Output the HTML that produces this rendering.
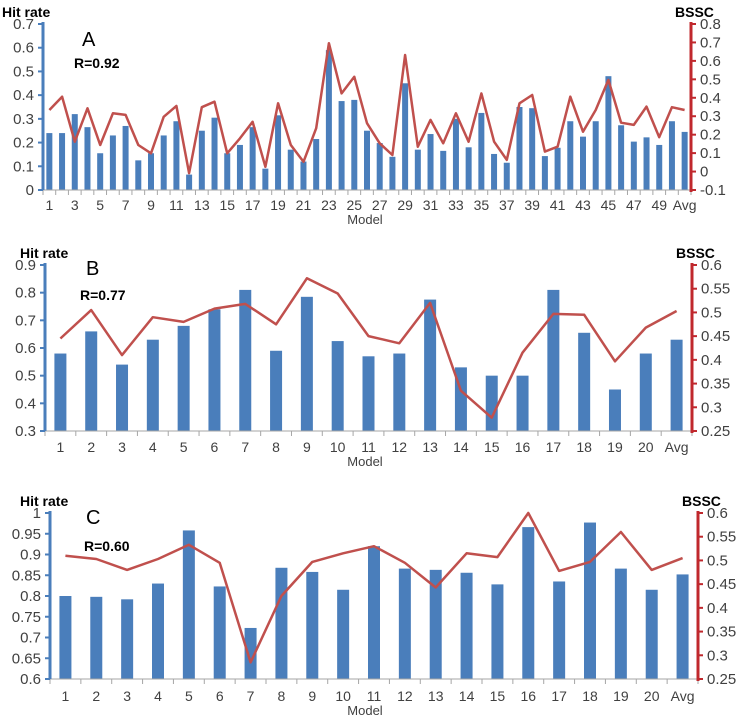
<!DOCTYPE html>
<html><head><meta charset="utf-8"><style>
body{margin:0;background:#fff;}
svg{display:block;font-family:"Liberation Sans",sans-serif;}
</style></head><body>
<svg id="c" width="747" height="725"></svg>
<script>
const catsA = []; for (let i=1;i<=50;i++) catsA.push(String(i)); catsA.push('Avg');
const hitA = [0.24,0.24,0.32,0.265,0.155,0.23,0.27,0.125,0.155,0.23,0.29,0.065,0.25,0.305,0.155,0.19,0.265,0.09,0.315,0.17,0.12,0.215,0.59,0.375,0.38,0.25,0.198,0.14,0.45,0.17,0.236,0.165,0.30,0.18,0.325,0.152,0.115,0.35,0.345,0.143,0.178,0.29,0.225,0.29,0.48,0.273,0.204,0.222,0.19,0.29,0.245];
const bsscA = [0.334,0.406,0.162,0.343,0.144,0.316,0.307,0.144,0.099,0.297,0.356,-0.009,0.349,0.379,0.099,0.18,0.27,0.026,0.37,0.144,0.053,0.235,0.696,0.424,0.514,0.262,0.153,0.09,0.632,0.135,0.28,0.153,0.316,0.162,0.424,0.162,0.063,0.37,0.415,0.108,0.135,0.406,0.216,0.334,0.497,0.265,0.253,0.352,0.186,0.349,0.334];
const catsBC = ['1','2','3','4','5','6','7','8','9','10','11','12','13','14','15','16','17','18','19','20','Avg'];
const hitB = [0.58,0.66,0.54,0.63,0.68,0.74,0.81,0.59,0.785,0.625,0.57,0.58,0.775,0.53,0.5,0.5,0.81,0.655,0.45,0.58,0.63];
const bsscB = [0.445,0.505,0.41,0.49,0.48,0.508,0.518,0.475,0.572,0.54,0.45,0.435,0.52,0.335,0.278,0.415,0.497,0.495,0.397,0.468,0.503];
const hitC = [0.80,0.798,0.792,0.83,0.958,0.823,0.723,0.868,0.858,0.815,0.92,0.866,0.863,0.856,0.828,0.966,0.835,0.977,0.866,0.815,0.852];
const bsscC = [0.51,0.503,0.48,0.503,0.533,0.495,0.285,0.425,0.497,0.515,0.53,0.495,0.443,0.515,0.507,0.6,0.478,0.497,0.56,0.48,0.505];
const leftTicksA = ['0','0.1','0.2','0.3','0.4','0.5','0.6','0.7'];
const rightTicksA = ['-0.1','0','0.1','0.2','0.3','0.4','0.5','0.6','0.7','0.8'];
const leftTicksB = ['0.3','0.4','0.5','0.6','0.7','0.8','0.9'];
const rightTicksB = ['0.25','0.3','0.35','0.4','0.45','0.5','0.55','0.6'];
const leftTicksC = ['0.6','0.65','0.7','0.75','0.8','0.85','0.9','0.95','1'];
const rightTicksC = ['0.25','0.3','0.35','0.4','0.45','0.5','0.55','0.6'];

const NS='http://www.w3.org/2000/svg';
const svg=document.getElementById('c');
function mk(tag,attrs,parent){const e=document.createElementNS(NS,tag);for(const k in attrs)e.setAttribute(k,attrs[k]);(parent||svg).appendChild(e);return e;}

function panel(p){
  const g=mk('g',{});
  
  
  const n=p.cats.length, step=(p.x1-p.x0)/n;
  const xc=i=>p.x0+step*(i+0.5);
  const lmin=+p.lt[0], lmax=+p.lt[p.lt.length-1];
  const rmin=+p.rt[0], rmax=+p.rt[p.rt.length-1];
  const yl=v=>p.yb-(v-lmin)/(lmax-lmin)*(p.yb-p.yt);
  const yr=v=>p.yb-(v-rmin)/(rmax-rmin)*(p.yb-p.yt);
  p.hit.forEach((v,i)=>{
    const r=mk('rect',{x:xc(i)-p.bw/2,y:yl(v),width:p.bw,height:p.yb-yl(v),fill:'#4a7ebb'},g);
    
    
  });
  const xa=mk('line',{x1:p.x0,y1:p.yb,x2:p.x1,y2:p.yb,stroke:'#a6a6a6','stroke-width':1},g);
  
  
  for(let i=0;i<=n;i++) mk('line',{x1:p.x0+step*i,y1:p.yb,x2:p.x0+step*i,y2:p.yb+5,stroke:'#a6a6a6'},g);
  p.cats.forEach((c,i)=>{
    if(p.id==='a' && i%2===1 && c!=='Avg') return;
    const t=mk('text',{x:xc(i),y:p.yb+p.lblDy,'text-anchor':'middle','font-size':p.fs,fill:'#404040'},g);
    t.textContent=c;
    
    
  });
  const mt=mk('text',{x:p.modelX,y:p.yb+p.lblDy+14,'text-anchor':'middle','font-size':13,fill:'#404040'},g);
  mt.textContent='Model';
  
  
  const pts=p.bssc.map((v,i)=>xc(i).toFixed(1)+','+yr(v).toFixed(1)).join(' ');
  const pl=mk('polyline',{points:pts,fill:'none',stroke:'#c0504d','stroke-width':2.5,'stroke-linejoin':'round'},g);
  
  
  const la=mk('line',{x1:p.x0,y1:p.yt-2,x2:p.x0,y2:p.yb,stroke:'#4a7ebb','stroke-width':3},g);
  
  
  p.lt.forEach(t=>{
    const y=yl(+t);
    mk('line',{x1:p.x0-5,y1:y,x2:p.x0,y2:y,stroke:'#4a7ebb','stroke-width':2},g);
    const tx=mk('text',{x:p.x0-9,y:y+5,'text-anchor':'end','font-size':15,fill:'#404040'},g);
    tx.textContent=t;
    
    
  });
  const ra=mk('line',{x1:p.x1,y1:p.yt-2,x2:p.x1,y2:p.yb+2,stroke:'#c0282d','stroke-width':3},g);
  
  
  p.rt.forEach(t=>{
    const y=yr(+t);
    mk('line',{x1:p.x1,y1:y,x2:p.x1+5,y2:y,stroke:'#c0282d','stroke-width':2},g);
    const tx=mk('text',{x:p.x1+9,y:y+5,'text-anchor':'start','font-size':15,fill:'#404040'},g);
    tx.textContent=t;
    
    
  });
  const ht=mk('text',{x:p.htX,y:p.yt-7,'font-size':14,'font-weight':'bold',fill:'#000'},g);
  ht.textContent='Hit rate';
  
  
  const bt=mk('text',{x:p.x1-16,y:p.yt-7,'font-size':14,'font-weight':'bold',fill:'#000'},g);
  bt.textContent='BSSC';
  
  
  const lt=mk('text',{x:p.letX,y:p.letY,'font-size':20,fill:'#000'},g);
  lt.textContent=p.id.toUpperCase();
  
  
  const rt=mk('text',{x:p.rX,y:p.rY,'font-size':14,'font-weight':'bold',fill:'#000'},g);
  rt.textContent=p.r;
  
  
}
panel({id:'a',cats:catsA,hit:hitA,bssc:bsscA,lt:leftTicksA,rt:rightTicksA,x0:43,x1:691,yt:24,yb:190,bw:6,fs:14,lblDy:20,modelX:365,htX:2,letX:82,letY:46,r:'R=0.92',rX:74,rY:68});
panel({id:'b',cats:catsBC,hit:hitB,bssc:bsscB,lt:leftTicksB,rt:rightTicksB,x0:45,x1:692,yt:265,yb:431,bw:12,fs:14,lblDy:21,modelX:365,htX:20,letX:86,letY:275,r:'R=0.77',rX:80,rY:300});
panel({id:'c',cats:catsBC,hit:hitC,bssc:bsscC,lt:leftTicksC,rt:rightTicksC,x0:50,x1:698,yt:513,yb:679,bw:12,fs:14,lblDy:22,modelX:365,htX:20,letX:86,letY:524,r:'R=0.60',rX:84,rY:551});
</script>
</body></html>
